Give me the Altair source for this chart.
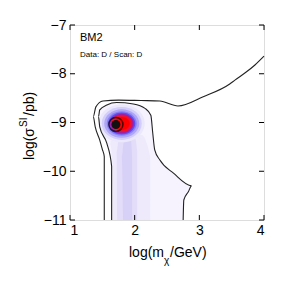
import altair as alt
import pandas as pd

# ---- data ----
outer_x = [1.53, 1.53, 1.50, 1.46, 1.39, 1.36, 1.40, 1.51, 1.75, 2.10, 2.39, 2.67, 3.06, 3.47, 3.55, 3.73, 3.86, 4.00]
outer_y = [-11.0, -9.70, -9.55, -9.36, -9.09, -8.88, -8.68, -8.56, -8.54, -8.55, -8.56, -8.66, -8.47, -8.21, -8.13, -7.96, -7.82, -7.64]

inner_x = [1.644, 1.644, 1.57, 1.46, 1.44, 1.46, 1.57, 1.72, 1.98, 2.16, 2.25, 2.28, 2.31, 2.39, 2.60, 2.88, 2.83, 2.76, 2.75]
inner_y = [-11.0, -9.90, -9.43, -9.09, -8.88, -8.74, -8.64, -8.59, -8.62, -8.71, -8.85, -9.22, -9.56, -9.77, -10.04, -10.30, -10.42, -10.59, -11.0]

band1_x = [1.66, 1.66, 1.62, 1.64, 2.10, 2.24, 2.24]
band1_y = [-11.0, -9.9, -9.45, -9.25, -9.25, -9.7, -11.0]
band2_x = [1.73, 1.72, 1.76, 2.00, 2.04, 2.04]
band2_y = [-11.0, -9.6, -9.30, -9.30, -9.6, -11.0]
band3_x = [1.82, 1.80, 1.84, 1.94, 1.96, 1.96]
band3_y = [-11.0, -9.7, -9.35, -9.35, -9.7, -11.0]

peak_x = [1.71]
peak_y = [-9.04]
blob_x = [1.80]
blob_y = [-9.02]

x_ticks = [1, 2, 3, 4]
y_ticks = [-7, -8, -9, -10, -11]

W, H = 194, 195
FONT = "Liberation Sans"

xs = alt.Scale(domain=[1, 4], nice=False, zero=False)
ys = alt.Scale(domain=[-11, -7], nice=False, zero=False)

x_axis = alt.Axis(values=x_ticks, ticks=False, domain=False, grid=False,
                  title=None, labelFont=FONT, labelFontSize=14,
                  labelColor="black", labelPadding=3, format="d")
y_axis = alt.Axis(values=y_ticks, ticks=False, domain=False, grid=False,
                  title=None, labelFont=FONT, labelFontSize=14,
                  labelColor="black", labelPadding=4, format="d",
                  labelExpr="replace(datum.label, '-', '\u2212')")


def X():
    return alt.X("x:Q", scale=xs, axis=x_axis)


def Y():
    return alt.Y("y:Q", scale=ys, axis=y_axis)


def poly(xv, yv):
    return pd.DataFrame({"x": xv, "y": yv, "o": list(range(len(xv)))})


layers = []

# filled regions
for xv, yv, col in [(inner_x, inner_y, "#f6f3fe"),
                    (band1_x, band1_y, "#eeeafc"),
                    (band2_x, band2_y, "#e3ddf9"),
                    (band3_x, band3_y, "#d8d1f7")]:
    layers.append(
        alt.Chart(poly(xv, yv)).mark_line(fill=col, stroke=None, strokeWidth=0, interpolate="monotone").encode(
            x=X(), y=Y(), order="o:Q")
    )

# blob (stepped density)
ell = "M -1 0 A 1 0.82 0 1 0 1 0 A 1 0.82 0 1 0 -1 0 Z"
blob_df = pd.DataFrame({"x": blob_x, "y": blob_y})
for w, col in [(46, "#ebe8fc"), (40, "#d2cdfa"), (35, "#aea6f7"), (30, "#8a80f4"),
               (27, "#5a4ef2"), (24, "#a020a0"), (21, "#f01030"), (16, "#ff0000")]:
    layers.append(
        alt.Chart(blob_df).mark_point(shape=ell, size=w * w, filled=True, fill=col, stroke=None,
                                      strokeWidth=0, opacity=1).encode(x=X(), y=Y())
    )

# contours
for xv, yv in [(outer_x, outer_y), (inner_x, inner_y)]:
    layers.append(
        alt.Chart(poly(xv, yv)).mark_line(color="#222222", strokeWidth=1.1, interpolate="monotone").encode(
            x=X(), y=Y(), order="o:Q")
    )

# best-fit marker
peak_df = pd.DataFrame({"x": peak_x, "y": peak_y})
layers.append(alt.Chart(peak_df).mark_point(shape="circle", size=196, filled=False, stroke="black",
                                            strokeWidth=1.5).encode(x=X(), y=Y()))
layers.append(alt.Chart(peak_df).mark_point(shape="circle", size=81, filled=True, fill="#111111",
                                            stroke=None, opacity=1).encode(x=X(), y=Y()))

# inward ticks
xt = pd.DataFrame({"x": x_ticks})
yt = pd.DataFrame({"y": y_ticks})
layers.append(alt.Chart(xt).mark_rule(color="black", strokeWidth=1).encode(
    x=X(), y=alt.value(H), y2=alt.value(H - 5)))
layers.append(alt.Chart(xt).mark_rule(color="black", strokeWidth=1).encode(
    x=X(), y=alt.value(0), y2=alt.value(5)))
layers.append(alt.Chart(yt).mark_rule(color="black", strokeWidth=1).encode(
    y=Y(), x=alt.value(0), x2=alt.value(5)))
layers.append(alt.Chart(yt).mark_rule(color="black", strokeWidth=1).encode(
    y=Y(), x=alt.value(W), x2=alt.value(W - 5)))


# texts
def txt(s, x, y, size, **kw):
    return alt.Chart(pd.DataFrame({"t": [s]})).mark_text(font=FONT, fontSize=size, color="black", **kw).encode(
        text="t:N", x=alt.value(x), y=alt.value(y))


layers.append(txt("BM2", 10, 13, 11, align="left", baseline="middle"))
layers.append(txt("Data: D / Scan: D", 10, 30, 8, align="left", baseline="middle"))

# x title: log(m_chi/GeV)
layers.append(txt("log(m", 94, 228, 14, align="right", baseline="middle"))
layers.append(txt("\u03c7", 94, 236, 10, align="left", baseline="middle"))
layers.append(txt("/GeV)", 100, 228, 14, align="left", baseline="middle"))

# y title: log(sigma^SI/pb), rotated
layers.append(txt("log(\u03c3", -40, 135, 14, align="left", baseline="middle", angle=270))
layers.append(txt("SI", -46, 102, 10, align="left", baseline="middle", angle=270))
layers.append(txt("/pb)", -40, 91, 14, align="left", baseline="middle", angle=270))

chart = alt.layer(*layers).properties(
    width=W, height=H,
    autosize=alt.AutoSizeParams(type="none"),
    padding={"left": 62, "top": 17, "right": 19, "bottom": 60},
).configure_view(stroke="black", strokeWidth=1.5).configure(background="white")

chart.save("out.html", embed_options={"renderer": "svg", "actions": False})
